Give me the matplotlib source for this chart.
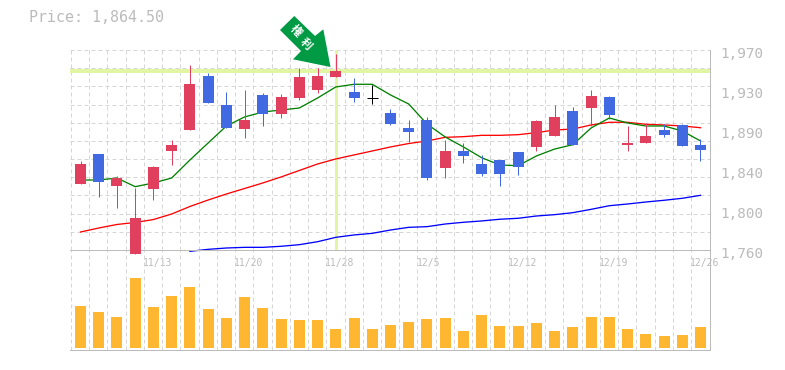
import matplotlib
matplotlib.use("Agg")
import matplotlib.pyplot as plt
from matplotlib.patches import Polygon
import numpy as np

W, H = 785, 370
plt.rcParams['font.family'] = ['DejaVu Sans Mono', 'Noto Sans CJK JP']

# ---- data ----
opens = [1829.3,1860.8,1827.2,1755.8,1824,1864,1886,1942.7,1912.3,1887.1,1922.8,1902.8,1919.6,1928,1941.7,1925.9,1919.6,1903.9,1888.1,1896.5,1846.1,1864,1850.3,1854.5,1862.9,1868.2,1879.7,1906,1909.1,1920.7,1870.3,1872.4,1886,1891.3,1870.3]
closes = [1850.3,1831.4,1835.6,1793.6,1847.2,1870.3,1934.3,1914.4,1888.1,1896.5,1902.8,1920.7,1941.7,1942.7,1948,1919.6,1919.6,1892.3,1883.9,1835.6,1864,1858.7,1839.8,1839.8,1847.2,1895.5,1899.7,1870.3,1921.7,1901.8,1872.4,1879.7,1880.8,1869.2,1864.5]
highs = [1853.5,1860.8,1837.7,1825.1,1848.2,1875.5,1954.3,1945.9,1925.9,1928,1924.9,1923.8,1951.1,1951.1,1965.8,1940.6,1933.3,1908,1896.5,1899.7,1875.5,1872.4,1859.8,1854.5,1862.9,1896.5,1912.3,1910.2,1928,1921.7,1890.2,1893.4,1892.3,1892.3,1876.6]
lows = [1829.3,1815.6,1804.1,1755.8,1812.5,1849.3,1886,1914.4,1888.1,1877.6,1890.2,1898.6,1917.5,1924.9,1941.7,1915.4,1913.3,1891.3,1873.4,1833.5,1835.6,1851.4,1837.7,1827.2,1838.8,1864,1879.7,1870.3,1890.2,1897.6,1864,1872.4,1878.7,1869.2,1853.5]
ma_short = [1833.5,1833.5,1835.6,1826.5,1830.4,1835.6,1854.5,1872.4,1890.2,1899.7,1904.9,1907,1909.1,1919.6,1931.2,1934,1934,1922.8,1913.3,1892.3,1878.7,1868.2,1856.9,1849.3,1848.5,1858.7,1866,1870.6,1888.1,1898.6,1893.4,1890.2,1890.2,1885,1874.5]
ma_mid = [1778.9,1783.1,1786.8,1788.9,1792,1797.8,1805.7,1812.5,1818.8,1824.6,1830.4,1836.7,1843.5,1850.3,1855.6,1859.8,1864,1868.2,1871.8,1874.5,1878.3,1879,1880.4,1880.4,1881.1,1883.2,1886,1887,1891.3,1894.1,1894.1,1892,1891.3,1890.2,1888.4]
ma_long = [np.nan]*6 + [1758.6,1760.7,1762.1,1762.8,1762.8,1763.9,1765.6,1768.7,1773.3,1775.8,1777.5,1781,1783.8,1784.5,1787.3,1789.1,1790.5,1792.3,1793.3,1795.7,1797.1,1799.2,1802.7,1806.5,1808.3,1810.4,1812.2,1814.3,1817.4]
volumes = [43,37,32,71,42,53,62,40,31,52,41,30,29,29,19,31,19,23,27,30,31,17,34,22,22,26,17,21,32,32,19,14,12,13,21]
price_ticks = [1760, 1802, 1844, 1886, 1928, 1970]
price_labels = ["1,760", "1,800", "1,840", "1,890", "1,930", "1,970"]
date_idx = [4, 9, 14, 19, 24, 29, 34]
date_labels = ["11/13", "11/20", "11/28", "12/5", "12/12", "12/19", "12/26"]
event_idx = 14
event_price = 1948
title = "Price: 1,864.50"
event_chars = ["権", "利"]

# ---- styles ----
UP, DOWN, FLAT = "#E0405E", "#4169E1", "#000000"
GRID, AXIS, TXT = "#d6d6d6", "#bbbbbb", "#bbbbbb"
HL = "#E1F5A2"
px = 0.72  # one pixel in points at 100 dpi


def fx(p):
    return p / W


def fy(p):
    return 1 - p / H


fig = plt.figure(figsize=(W / 100, H / 100), dpi=100, facecolor="white")
L, R, T, M, B = 70, 710, 50, 250, 350
ax = fig.add_axes([fx(L), fy(M), fx(R - L), (M - T) / H])
av = fig.add_axes([fx(L), fy(B), fx(R - L), (B - M) / H])

x = np.arange(len(opens))
slot = 18.235
xlim = ((L - 80.5) / slot, (R - 80.5) / slot)
dash = (0, (4, 3))
for a in (ax, av):
    a.set_xlim(*xlim)
    a.patch.set_alpha(0)
    for s in a.spines.values():
        s.set_visible(False)
    a.tick_params(length=0, labelleft=False, labelbottom=False)
    a.set_xticks(x - 0.52)
    a.grid(axis="x", color=GRID, lw=1.0 * px, ls=dash, zorder=0)
    a.set_axisbelow(True)

ax.set_ylim(1760, 1970)
ax.set_yticks(np.linspace(1760, 1970, 12))
ax.grid(axis="y", color=GRID, lw=1.0 * px, ls=dash, zorder=0)
for g in ax.get_ygridlines():
    g.set_clip_on(False)
av.set_ylim(-2, 100)

# event highlight
ax.axhline(event_price, color=HL, lw=4 * px, zorder=1)
ax.axvline(x[event_idx], color=HL, lw=3 * px, zorder=1)

# moving averages
line_kw = dict(lw=1.3 * px, zorder=2)
ax.plot(x, ma_long, color="#0000FF", clip_on=False, **line_kw)
ax.plot(x, ma_mid, color="#FF0000", **line_kw)
ax.plot(x, ma_short, color="#008000", **line_kw)

# candles
for i, (o, c, h, l) in enumerate(zip(opens, closes, highs, lows)):
    col = UP if c > o else DOWN if c < o else FLAT
    ax.plot([i, i], [l, h], color=col, lw=1.0 * px, zorder=3, clip_on=False,
            solid_capstyle="butt", snap=True)
    if c == o:
        ax.plot([i - 0.3, i + 0.3], [o, o], color=col, lw=1.0 * px, zorder=3,
                solid_capstyle="butt", snap=True)
    else:
        ax.bar(i, abs(c - o), bottom=min(o, c), width=0.603, color=col,
               zorder=3, clip_on=False, lw=0, antialiased=False)

# volume
av.bar(x, volumes, width=0.603, color="#FFB732", zorder=3, lw=0, antialiased=False)

# axis lines
for a in (ax, av):
    a.plot([0, 1], [0, 0], transform=a.transAxes, color=AXIS, lw=1.0 * px,
           clip_on=False, zorder=2, antialiased=False)
    a.plot([1, 1], [0, 1], transform=a.transAxes, color=AXIS, lw=1.0 * px,
           clip_on=False, zorder=2, antialiased=False)

# tick labels
for p, s in zip(price_ticks, price_labels):
    ax.annotate(s, (1, p), xycoords=("axes fraction", "data"), xytext=(10, -4),
                textcoords="offset pixels", color=TXT, fontsize=10.4,
                ha="left", va="center")
for i, s in zip(date_idx, date_labels):
    ax.annotate(s, (i - 0.52, 1760), xycoords="data", xytext=(-1, -13),
                textcoords="offset pixels", color=TXT, fontsize=7.0,
                ha="left", va="center", annotation_clip=False)

fig.text(fx(29), fy(18), title, color=TXT, fontsize=10.8, ha="left", va="center")

# event arrow (pixel outline relative to figure)
arrow = [(294.3, 16), (315, 36), (323.3, 29.3), (330.5, 67), (293, 59.3), (301, 51), (280, 30)]
fig.add_artist(Polygon([(fx(a), fy(b)) for a, b in arrow], closed=True,
                       transform=fig.transFigure, fc="#009944", ec="none", zorder=5))
for ch, (cx, cy) in zip(event_chars, [(296, 31), (306, 44)]):
    fig.text(fx(cx), fy(cy), ch, color="white", fontsize=8.2, rotation=-45,
             rotation_mode="anchor", ha="center", va="center", weight="bold", zorder=6,
             family=['Noto Sans CJK JP'])

fig.savefig("out.png", dpi=100)
